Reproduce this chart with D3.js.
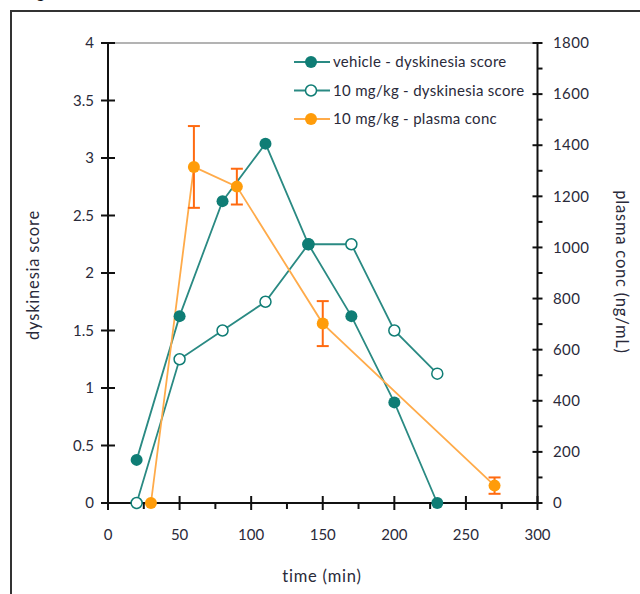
<!DOCTYPE html>
<html><head><meta charset="utf-8">
<script src="https://cdn.jsdelivr.net/npm/d3@7"></script>
<style>
html,body{margin:0;padding:0;background:#fff;}
svg{display:block;}
text{font-family:Lato,"Open Sans",sans-serif;fill:#2a2a3a;}
</style></head>
<body>
<div id="chart"></div>
<script>
// ---- data ----
const times = [20, 50, 80, 110, 140, 170, 200, 230];
const vehicleScore = [0.375, 1.625, 2.625, 3.125, 2.25, 1.625, 0.875, 0];
const doseScore = [0, 1.25, 1.5, 1.75, 2.25, 2.25, 1.5, 1.125];
const plasmaTimes = [30, 60, 90, 150, 270];
const plasmaConc = [0, 1315, 1238, 702, 68];
const plasmaErr = [0, 160, 70, 88, 32];
const xTicks = [0, 50, 100, 150, 200, 250, 300];
const yLeftTicks = [0, 0.5, 1, 1.5, 2, 2.5, 3, 3.5, 4];
const yRightTicks = [0, 200, 400, 600, 800, 1000, 1200, 1400, 1600, 1800];
const legendLabels = ["vehicle - dyskinesia score", "10 mg/kg - dyskinesia score", "10 mg/kg - plasma conc"];

const W = 640, H = 594;
const svg = d3.select("#chart").append("svg").attr("width", W).attr("height", H);

const teal = "#0f7d75", tealLine = "#2a8a83";
const orange = "#ff9c0a", orangeLine = "#ffab4a", errCol = "#ff6a10";

// outer frame
svg.append("rect").attr("x", 11).attr("y", 11).attr("width", 660).attr("height", 620)
  .attr("fill", "none").attr("stroke", "#333").attr("stroke-width", 2);
// cropped panel label (only its lowest part shows at the top edge)
svg.append("text").attr("x", 37).attr("y", -1).attr("font-size", 14).attr("font-weight", "bold")
  .style("fill", "#111").text("g");

const x = d3.scaleLinear().domain([0, 300]).range([108, 537.5]);
const yL = d3.scaleLinear().domain([0, 4]).range([503, 43]);
const yR = d3.scaleLinear().domain([0, 1800]).range([503, 43]);

// plot area top border
svg.append("line").attr("x1", x(0)).attr("x2", x(300)).attr("y1", yL(4)).attr("y2", yL(4))
  .attr("stroke", "#9a9a9a").attr("stroke-width", 1.5);

// x axis
const gx = svg.append("g");
gx.append("line").attr("x1", x(0)).attr("x2", x(300)).attr("y1", yL(0)).attr("y2", yL(0))
  .attr("stroke", "#111").attr("stroke-width", 2);
gx.selectAll("line.maj").data(xTicks).enter().append("line")
  .attr("x1", d => x(d)).attr("x2", d => x(d)).attr("y1", yL(0) - 7).attr("y2", yL(0) + 7)
  .attr("stroke", "#111").attr("stroke-width", 2);
gx.selectAll("line.min").data(d3.range(25, 300, 50)).enter().append("line")
  .attr("x1", d => x(d)).attr("x2", d => x(d)).attr("y1", yL(0)).attr("y2", yL(0) + 6)
  .attr("stroke", "#111").attr("stroke-width", 2);
gx.selectAll("text").data(xTicks).enter().append("text")
  .attr("x", d => x(d)).attr("y", 540).attr("text-anchor", "middle").attr("font-size", 15).text(d => d);

// left axis
const gl = svg.append("g");
gl.append("line").attr("x1", x(0)).attr("x2", x(0)).attr("y1", yL(0)).attr("y2", yL(4))
  .attr("stroke", "#111").attr("stroke-width", 2);
gl.selectAll("line.t").data(yLeftTicks).enter().append("line")
  .attr("x1", x(0) - 7).attr("x2", x(0) + 7).attr("y1", d => yL(d)).attr("y2", d => yL(d))
  .attr("stroke", "#111").attr("stroke-width", 2);
gl.selectAll("text").data(yLeftTicks).enter().append("text")
  .attr("x", 94).attr("y", d => yL(d)).attr("dy", "0.35em").attr("text-anchor", "end")
  .attr("font-size", 15).text(d => d);

// right axis
const gr = svg.append("g");
gr.append("line").attr("x1", x(300)).attr("x2", x(300)).attr("y1", yR(0)).attr("y2", yR(1800))
  .attr("stroke", "#111").attr("stroke-width", 2);
gr.selectAll("line.t").data(yRightTicks).enter().append("line")
  .attr("x1", x(300) - 5).attr("x2", x(300) + 5).attr("y1", d => yR(d)).attr("y2", d => yR(d))
  .attr("stroke", "#111").attr("stroke-width", 2);
gr.selectAll("line.m").data(d3.range(100, 1800, 200)).enter().append("line")
  .attr("x1", x(300)).attr("x2", x(300) + 5).attr("y1", d => yR(d)).attr("y2", d => yR(d))
  .attr("stroke", "#111").attr("stroke-width", 2);
gr.selectAll("text").data(yRightTicks).enter().append("text")
  .attr("x", 553).attr("y", d => yR(d)).attr("dy", "0.35em").attr("text-anchor", "start")
  .attr("font-size", 15).attr("letter-spacing", 0.4).text(d => d);

// axis titles
svg.append("text").attr("transform", "translate(39,275) rotate(-90)").attr("text-anchor", "middle")
  .attr("font-size", 16.5).attr("letter-spacing", 0.8).text("dyskinesia score");
svg.append("text").attr("transform", "translate(616,272) rotate(90)").attr("text-anchor", "middle")
  .attr("font-size", 16.5).attr("letter-spacing", 0.8).text("plasma conc (ng/mL)");
svg.append("text").attr("x", 322).attr("y", 582).attr("text-anchor", "middle")
  .attr("font-size", 16.5).attr("letter-spacing", 0.8).text("time (min)");

// series lines
const lineL = d3.line().x(d => x(d[0])).y(d => yL(d[1]));
const lineR = d3.line().x(d => x(d[0])).y(d => yR(d[1]));
const vehData = times.map((t, i) => [t, vehicleScore[i]]);
const doseData = times.map((t, i) => [t, doseScore[i]]);
const plData = plasmaTimes.map((t, i) => [t, plasmaConc[i], plasmaErr[i]]);

svg.append("path").datum(doseData).attr("d", lineL).attr("fill", "none").attr("stroke", tealLine).attr("stroke-width", 1.8);
svg.append("path").datum(vehData).attr("d", lineL).attr("fill", "none").attr("stroke", tealLine).attr("stroke-width", 1.8);
svg.append("path").datum(plData).attr("d", lineR).attr("fill", "none").attr("stroke", orangeLine).attr("stroke-width", 1.8);

// error bars
const eb = svg.append("g").selectAll("g").data(plData.filter(d => d[2] > 0)).enter().append("g");
eb.append("line").attr("x1", d => x(d[0])).attr("x2", d => x(d[0]))
  .attr("y1", d => yR(d[1] + d[2])).attr("y2", d => yR(d[1] - d[2])).attr("stroke", errCol).attr("stroke-width", 2);
eb.append("line").attr("x1", d => x(d[0]) - 6).attr("x2", d => x(d[0]) + 6)
  .attr("y1", d => yR(d[1] + d[2])).attr("y2", d => yR(d[1] + d[2])).attr("stroke", errCol).attr("stroke-width", 2);
eb.append("line").attr("x1", d => x(d[0]) - 6).attr("x2", d => x(d[0]) + 6)
  .attr("y1", d => yR(d[1] - d[2])).attr("y2", d => yR(d[1] - d[2])).attr("stroke", errCol).attr("stroke-width", 2);

// markers
svg.append("g").selectAll("circle").data(doseData).enter().append("circle")
  .attr("cx", d => x(d[0])).attr("cy", d => yL(d[1])).attr("r", 5.5)
  .attr("fill", "#fff").attr("stroke", teal).attr("stroke-width", 1.5);
svg.append("g").selectAll("circle").data(vehData).enter().append("circle")
  .attr("cx", d => x(d[0])).attr("cy", d => yL(d[1])).attr("r", 6).attr("fill", teal);
svg.append("g").selectAll("circle").data(plData).enter().append("circle")
  .attr("cx", d => x(d[0])).attr("cy", d => yR(d[1])).attr("r", 6).attr("fill", orange);

// legend
const lg = svg.append("g");
const legY = [62, 90.5, 119];
legendLabels.forEach((lab, i) => {
  const col = i === 2 ? orangeLine : tealLine;
  lg.append("line").attr("x1", 294).attr("x2", 330).attr("y1", legY[i]).attr("y2", legY[i])
    .attr("stroke", col).attr("stroke-width", 2);
  const c = lg.append("circle").attr("cx", 311).attr("cy", legY[i]);
  if (i === 0) c.attr("r", 6).attr("fill", teal);
  else if (i === 1) c.attr("r", 5.5).attr("fill", "#fff").attr("stroke", teal).attr("stroke-width", 1.5);
  else c.attr("r", 6).attr("fill", orange);
  lg.append("text").attr("x", 333).attr("y", legY[i]).attr("dy", "0.35em").attr("font-size", 15)
    .attr("letter-spacing", 0.3).text(lab);
});
</script>
</body></html>
